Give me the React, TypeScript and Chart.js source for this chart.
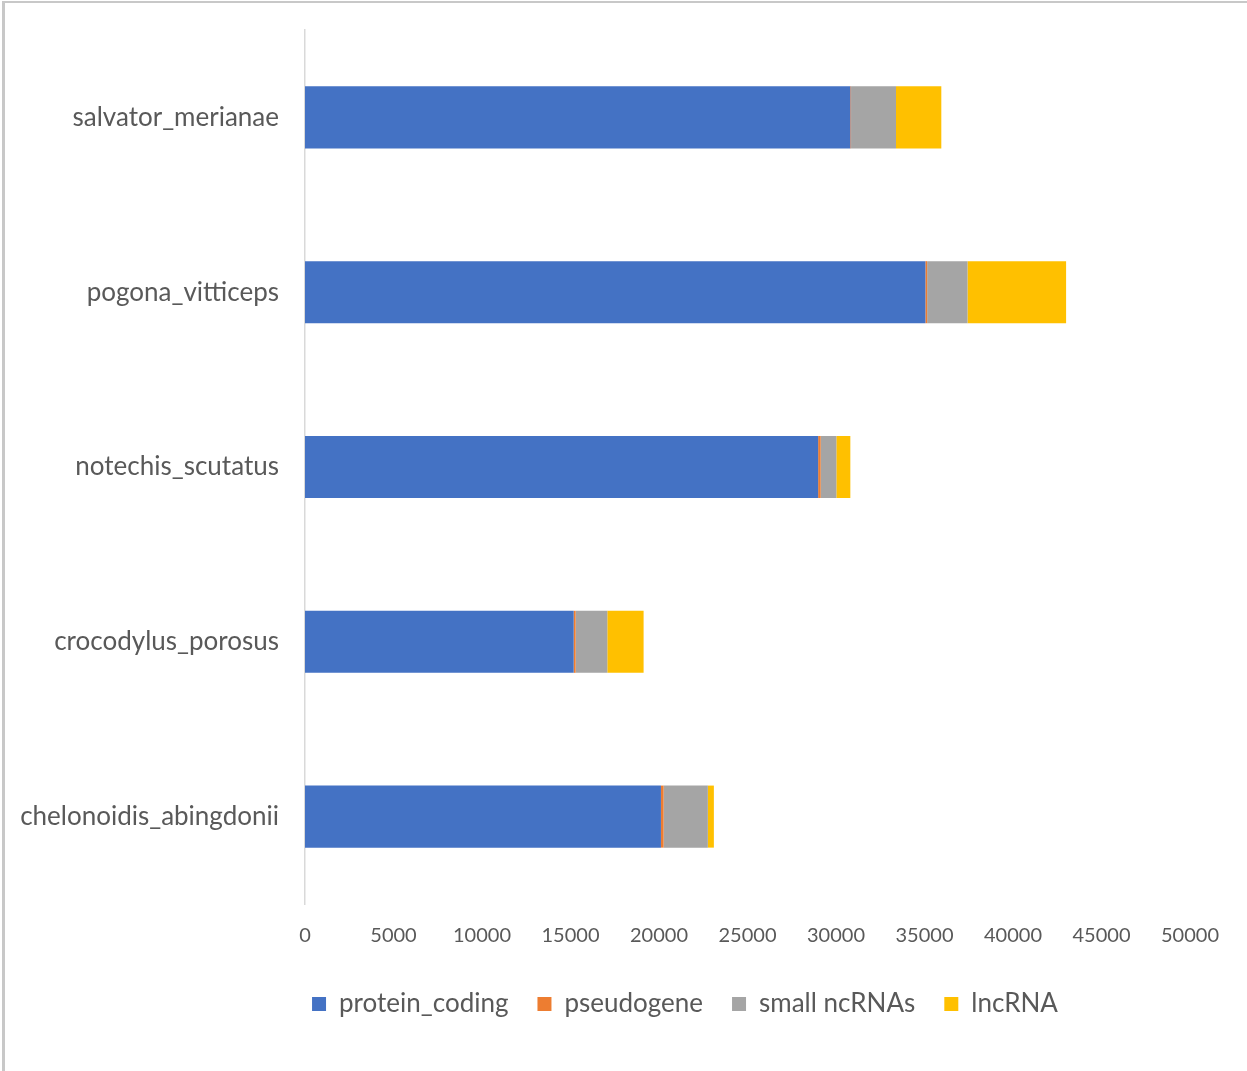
import React, { useEffect, useRef } from "react";
import { Chart, registerables } from "chart.js";

Chart.register(...registerables);

const categories = [
  "salvator_merianae",
  "pogona_vitticeps",
  "notechis_scutatus",
  "crocodylus_porosus",
  "chelonoidis_abingdonii",
];
const proteinCoding = [30810, 35050, 28990, 15180, 20110];
const pseudogene = [40, 100, 145, 110, 150];
const smallNcRNAs = [2540, 2280, 885, 1790, 2500];
const lncRNA = [2560, 5570, 790, 2050, 340];

const seriesNames = ["protein_coding", "pseudogene", "small ncRNAs", "lncRNA"];
const seriesColors = ["#4472C4", "#ED7D31", "#A5A5A5", "#FFC000"];

const FONT = "Lato, 'Open Sans', sans-serif";

export default function App() {
  const ref = useRef<HTMLCanvasElement | null>(null);
  useEffect(() => {
    const canvas = ref.current;
    if (!canvas) return;
    const values = [proteinCoding, pseudogene, smallNcRNAs, lncRNA];
    const legendShift = {
      id: "legendShift",
      afterUpdate(chart: any) {
        const l = chart.legend;
        if (!l) return;
        const dx = 90;
        l.left += dx;
        l.right += dx;
        l.adjustHitBoxes();
      },
    };
    const chart = new Chart(canvas, {
      type: "bar",
      data: {
        labels: categories,
        datasets: values.map((v, i) => ({
          label: seriesNames[i],
          data: v,
          backgroundColor: seriesColors[i],
          borderWidth: 0,
          categoryPercentage: 1,
          barPercentage: 0.355,
        })),
      },
      options: {
        indexAxis: "y",
        animation: false,
        responsive: false,
        maintainAspectRatio: false,
        layout: { padding: { left: 0, right: 57, top: 30, bottom: 44 } },
        scales: {
          x: {
            stacked: true,
            min: 0,
            max: 50000,
            ticks: {
              stepSize: 5000,
              color: "#595959",
              font: { family: FONT, size: 20 },
              padding: 20,
              maxRotation: 0,
              callback: (v: any) => String(v),
            },
            grid: { display: false, drawTicks: false },
            border: { display: false },
            afterFit: (s: any) => {
              s.height -= 6;
            },
          },
          y: {
            stacked: true,
            ticks: {
              color: "#595959",
              font: { family: FONT, size: 26 },
              padding: 26,
            },
            grid: { display: false, drawTicks: false },
            border: { display: true, color: "#D9D9D9", width: 1.5 },
            afterFit: (s: any) => {
              s.width = 305;
              s.paddingTop = 0;
              s.paddingBottom = 0;
            },
          },
        },
        plugins: {
          legend: {
            position: "bottom",
            labels: {
              boxWidth: 14,
              boxHeight: 14,
              padding: 29,
              color: "#595959",
              font: { family: FONT, size: 26 },
            },
          },
          tooltip: { enabled: false },
        },
      },
      plugins: [legendShift],
    });
    return () => chart.destroy();
  }, []);
  return (
    <div
      style={{
        position: "fixed",
        left: 0,
        top: 0,
        width: 1247,
        height: 1071,
        background: "#fff",
      }}
    >
      <div
        style={{
          position: "absolute",
          left: 2,
          top: 1,
          right: 0,
          bottom: 0,
          borderLeft: "3px solid #C8C8C8",
          borderTop: "2px solid #C8C8C8",
        }}
      />
      <canvas
        ref={ref}
        width={1247}
        height={1071}
        style={{ position: "absolute", left: 0, top: 0, width: 1247, height: 1071 }}
      />
    </div>
  );
}
